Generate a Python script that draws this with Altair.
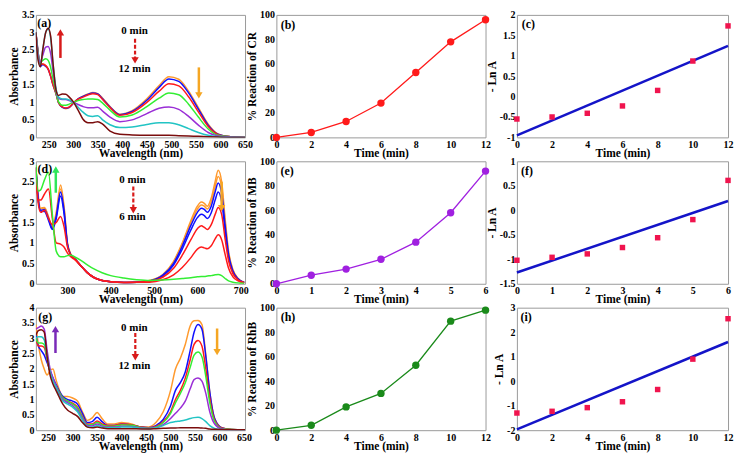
import altair as alt
import pandas as pd

FONT = "Liberation Serif"

# ---------------- (a) Congo red spectra ----------------
WL_A = [224, 228, 233, 238, 244, 249, 254, 259, 265, 270, 278, 285, 292, 300, 310, 320, 330, 340, 350, 360,
        375, 395, 420, 450, 475, 495, 515, 535, 555, 575, 595, 620, 650]
CR_0 = [3.0, 2.5, 2.05, 2.1, 2.05, 1.95, 1.75, 1.5, 1.25, 1.0, 0.86, 0.82, 0.85, 0.97, 1.1, 1.18, 1.24, 1.28, 1.25, 1.12,
        0.88, 0.66, 0.76, 1.1, 1.48, 1.73, 1.66, 1.32, 0.85, 0.38, 0.1, 0.02, 0.0]
CR_2 = [3.0, 2.5, 2.02, 2.08, 2.03, 1.95, 1.75, 1.5, 1.25, 1.0, 0.86, 0.83, 0.86, 0.97, 1.1, 1.17, 1.23, 1.27, 1.24, 1.1,
        0.87, 0.65, 0.74, 1.06, 1.43, 1.67, 1.6, 1.27, 0.81, 0.35, 0.09, 0.02, 0.0]
CR_4 = [3.0, 2.45, 2.08, 2.1, 2.05, 1.95, 1.75, 1.5, 1.25, 1.0, 0.87, 0.84, 0.87, 0.98, 1.09, 1.15, 1.21, 1.25, 1.22, 1.08,
        0.85, 0.63, 0.71, 1.0, 1.32, 1.53, 1.47, 1.16, 0.73, 0.31, 0.08, 0.02, 0.0]
CR_6 = [3.0, 2.45, 2.15, 2.2, 2.25, 2.2, 2.0, 1.65, 1.28, 1.02, 0.92, 0.92, 0.95, 1.0, 1.05, 1.08, 1.1, 1.1, 1.08, 0.98,
        0.78, 0.58, 0.64, 0.88, 1.12, 1.27, 1.22, 0.95, 0.58, 0.24, 0.06, 0.02, 0.0]
CR_8 = [3.0, 2.4, 2.15, 2.35, 2.58, 2.6, 2.4, 1.9, 1.35, 1.12, 1.08, 1.08, 1.05, 1.0, 0.94, 0.88, 0.85, 0.85, 0.86, 0.75,
        0.58, 0.45, 0.5, 0.68, 0.83, 0.87, 0.8, 0.6, 0.35, 0.14, 0.04, 0.01, 0.0]
CR_10 = [3.0, 2.3, 2.05, 2.5, 3.0, 3.1, 2.85, 2.1, 1.4, 1.15, 1.1, 1.1, 1.07, 1.0, 0.86, 0.72, 0.62, 0.6, 0.62, 0.5,
         0.36, 0.28, 0.3, 0.37, 0.42, 0.42, 0.36, 0.25, 0.14, 0.06, 0.02, 0.0, 0.0]
CR_12 = [3.0, 2.25, 2.02, 2.5, 3.0, 3.12, 2.9, 2.1, 1.35, 1.2, 1.24, 1.23, 1.15, 1.02, 0.78, 0.52, 0.42, 0.42, 0.45, 0.38,
         0.18, 0.09, 0.07, 0.06, 0.06, 0.06, 0.05, 0.04, 0.03, 0.02, 0.01, 0.0, 0.0]
CR_CURVES = [CR_0, CR_2, CR_4, CR_6, CR_8, CR_10, CR_12]
CR_NAMES = ["0 min", "2 min", "4 min", "6 min", "8 min", "10 min", "12 min"]
CR_COLORS = ["#ff9a2e", "#1010ff", "#ff1a1a", "#33ee33", "#9a2ed6", "#22c4c4", "#7a0d0d"]

# ---------------- (d) Methylene blue spectra ----------------
WL_D = [227, 232, 238, 247, 256, 265, 274, 284, 292, 300, 308, 318, 330, 345, 360, 380, 400, 430, 460,
        490, 520, 545, 565, 585, 600, 609, 616, 623, 632, 641, 648, 656, 664, 672, 682, 694, 708]
MB_0 = [2.85, 2.2, 1.85, 1.87, 1.65, 1.4, 1.75, 2.42, 1.9, 1.0, 0.72, 0.6, 0.45, 0.28, 0.16, 0.08, 0.05, 0.03, 0.04,
        0.08, 0.22, 0.55, 1.0, 1.55, 1.9, 2.0, 1.97, 1.9, 2.1, 2.5, 2.78, 2.5, 1.6, 0.8, 0.35, 0.13, 0.03]
MB_1 = [2.85, 2.15, 1.83, 1.85, 1.63, 1.38, 1.7, 2.32, 1.85, 0.98, 0.71, 0.6, 0.45, 0.28, 0.16, 0.08, 0.05, 0.03, 0.04,
        0.08, 0.22, 0.53, 0.97, 1.5, 1.83, 1.93, 1.9, 1.83, 2.0, 2.38, 2.63, 2.37, 1.52, 0.76, 0.33, 0.12, 0.03]
MB_2 = [2.85, 2.1, 1.8, 1.82, 1.6, 1.35, 1.65, 2.25, 1.8, 0.96, 0.7, 0.6, 0.45, 0.28, 0.16, 0.08, 0.05, 0.03, 0.04,
        0.07, 0.21, 0.5, 0.92, 1.43, 1.75, 1.85, 1.82, 1.75, 1.9, 2.25, 2.47, 2.22, 1.43, 0.72, 0.31, 0.12, 0.03]
MB_3 = [2.85, 2.1, 1.78, 1.77, 1.56, 1.33, 1.6, 2.15, 1.72, 0.95, 0.7, 0.6, 0.45, 0.28, 0.16, 0.08, 0.05, 0.03, 0.04,
        0.07, 0.19, 0.46, 0.85, 1.32, 1.62, 1.7, 1.67, 1.6, 1.74, 2.05, 2.25, 2.02, 1.3, 0.66, 0.29, 0.11, 0.03]
MB_4 = [2.8, 2.0, 1.75, 1.8, 1.6, 1.45, 1.5, 1.65, 1.4, 0.9, 0.7, 0.6, 0.45, 0.28, 0.16, 0.08, 0.05, 0.03, 0.04,
        0.06, 0.16, 0.38, 0.7, 1.08, 1.35, 1.42, 1.38, 1.33, 1.45, 1.7, 1.87, 1.7, 1.1, 0.56, 0.25, 0.1, 0.03]
MB_5 = [2.85, 2.05, 2.05, 2.2, 2.32, 1.6, 1.0, 0.97, 0.9, 0.75, 0.66, 0.58, 0.45, 0.28, 0.16, 0.08, 0.05, 0.03, 0.04,
        0.04, 0.1, 0.22, 0.4, 0.64, 0.85, 0.9, 0.88, 0.86, 0.93, 1.1, 1.2, 1.08, 0.72, 0.38, 0.17, 0.07, 0.02]
MB_6 = [2.9, 2.27, 2.3, 2.55, 2.73, 1.7, 0.8, 0.66, 0.66, 0.69, 0.7, 0.65, 0.58, 0.47, 0.37, 0.27, 0.2, 0.14, 0.1,
        0.08, 0.09, 0.11, 0.13, 0.15, 0.17, 0.18, 0.18, 0.19, 0.2, 0.22, 0.23, 0.2, 0.13, 0.07, 0.04, 0.02, 0.01]
MB_CURVES = [MB_0, MB_1, MB_2, MB_3, MB_4, MB_5, MB_6]
MB_NAMES = ["0 min", "1 min", "2 min", "3 min", "4 min", "5 min", "6 min"]
MB_COLORS = ["#ff9a2e", "#1010ff", "#1a7a2a", "#ff1a1a", "#9a2ed6", "#ee1d5a", "#7cf03a"]

# ---------------- (g) Rhodamine B spectra ----------------
WL_G = [225, 230, 236, 242, 248, 254, 260, 266, 272, 280, 290, 300, 310, 320, 330, 340, 350, 360, 372, 385,
        400, 420, 440, 455, 470, 485, 500, 510, 520, 530, 540, 548, 556, 564, 572, 580, 590, 605, 625, 652]
RB_0 = [3.45, 2.8, 2.3, 2.0, 1.8, 1.95, 2.0, 1.65, 1.35, 1.1, 1.1, 1.05, 0.95, 0.6, 0.32, 0.4, 0.58, 0.38, 0.2, 0.2,
        0.25, 0.2, 0.1, 0.1, 0.25, 0.6, 1.3, 2.0, 2.35, 2.8, 3.4, 3.57, 3.58, 3.45, 2.45, 1.25, 0.38, 0.08, 0.02, 0.01]
RB_2 = [3.1, 2.75, 2.6, 2.45, 2.2, 1.95, 1.7, 1.5, 1.3, 1.1, 1.0, 0.95, 0.85, 0.55, 0.25, 0.28, 0.42, 0.28, 0.15, 0.15,
        0.2, 0.17, 0.1, 0.08, 0.15, 0.35, 0.8, 1.3, 1.55, 1.9, 2.6, 3.2, 3.45, 3.3, 2.4, 1.25, 0.38, 0.07, 0.02, 0.01]
RB_4 = [3.0, 2.75, 2.75, 2.7, 2.3, 1.9, 1.65, 1.45, 1.25, 1.05, 0.95, 0.88, 0.75, 0.45, 0.2, 0.2, 0.3, 0.2, 0.15, 0.15,
        0.2, 0.18, 0.1, 0.08, 0.12, 0.28, 0.6, 1.0, 1.3, 1.7, 2.3, 2.8, 2.93, 2.75, 2.0, 1.05, 0.32, 0.06, 0.02, 0.01]
RB_6 = [3.0, 2.85, 2.85, 2.8, 2.35, 1.9, 1.65, 1.45, 1.25, 1.05, 0.95, 0.85, 0.72, 0.42, 0.18, 0.18, 0.25, 0.17, 0.13, 0.13,
        0.17, 0.16, 0.09, 0.07, 0.1, 0.25, 0.55, 0.9, 1.2, 1.55, 2.05, 2.45, 2.55, 2.4, 1.75, 0.9, 0.28, 0.05, 0.02, 0.01]
RB_8 = [3.3, 3.35, 3.4, 3.3, 2.6, 2.0, 1.7, 1.45, 1.2, 1.0, 0.9, 0.8, 0.65, 0.38, 0.15, 0.14, 0.2, 0.13, 0.1, 0.1,
        0.13, 0.12, 0.07, 0.06, 0.08, 0.18, 0.38, 0.55, 0.72, 0.95, 1.35, 1.65, 1.7, 1.6, 1.2, 0.6, 0.2, 0.04, 0.01, 0.01]
RB_10 = [3.0, 3.05, 3.05, 2.95, 2.4, 1.9, 1.6, 1.4, 1.15, 0.95, 0.85, 0.75, 0.6, 0.33, 0.12, 0.1, 0.15, 0.1, 0.08, 0.08,
         0.1, 0.1, 0.06, 0.05, 0.08, 0.15, 0.25, 0.28, 0.3, 0.33, 0.38, 0.41, 0.42, 0.38, 0.28, 0.15, 0.06, 0.02, 0.01, 0.01]
RB_12 = [3.1, 3.25, 3.28, 3.2, 2.4, 1.8, 1.5, 1.3, 1.1, 0.85, 0.65, 0.55, 0.45, 0.25, 0.1, 0.08, 0.1, 0.07, 0.05, 0.05,
         0.05, 0.05, 0.04, 0.04, 0.05, 0.06, 0.07, 0.07, 0.08, 0.08, 0.08, 0.08, 0.08, 0.07, 0.06, 0.04, 0.03, 0.02, 0.01, 0.01]
RB_CURVES = [RB_0, RB_2, RB_4, RB_6, RB_8, RB_10, RB_12]
RB_NAMES = ["0 min", "2 min", "4 min", "6 min", "8 min", "10 min", "12 min"]
RB_COLORS = ["#ff9a2e", "#1010ff", "#1a7a2a", "#ff1a1a", "#d4f03a", "#22d0d0", "#9a1ad6"]

# ---------------- kinetics ----------------
T_CR = [0, 2, 4, 6, 8, 10, 12]
PCT_CR = [0, 4, 13, 28, 53, 78, 96]
LNA_CR = [-0.55, -0.5, -0.41, -0.23, 0.15, 0.87, 1.73]
FIT_CR_T = [0, 12]
FIT_CR = [-0.95, 1.24]

T_MB = [0, 1, 2, 3, 4, 5, 6]
PCT_MB = [0, 7, 12, 20, 34, 58, 92]
LNA_MB = [-1.02, -0.96, -0.89, -0.76, -0.56, -0.19, 0.61]
FIT_MB_T = [0, 6]
FIT_MB = [-1.27, 0.19]

T_RB = [0, 2, 4, 6, 8, 10, 12]
PCT_RB = [0, 4, 19, 30, 53, 89, 98]
LNA_RB = [-1.3, -1.23, -1.08, -0.84, -0.34, 0.9, 2.55]
FIT_RB_T = [0, 12]
FIT_RB = [-1.97, 1.6]

# annotation anchors (data units)
ANN_A = dict(lab=("(a)", 227, 3.28), t0=(425, 3.03), t1=("12 min", 425, 1.95), dash=(426, 2.82, 2.2),
             up=(274, 2.27, 3.0, "#d81a1a"), down=(556, 2.0, 1.2, "#f5a623"))
ANN_D = dict(lab=("(d)", 231, 2.81), t0=(450, 2.55), t1=("6 min", 450, 1.64), dash=(452, 2.38, 1.8),
             up=(273, 2.23, 2.8, "#2ee65a"), down=(656, 2.5, 1.85, "#f5a623"))
ANN_G = dict(lab=("(g)", 230, 3.68), t0=(426, 3.35), t1=("12 min", 426, 2.1), dash=(428, 3.17, 2.38),
             up=(265, 2.52, 3.3, "#7a2ab8"), down=(595, 3.32, 2.55, "#f5a623"))

W1, W2, W3 = 210, 210, 212
H = 123


def xaxis(title, values):
    return alt.Axis(title=title, values=values, labelExpr="datum.value + ''", grid=False, ticks=False,
                    domain=False, labelPadding=2, titlePadding=-2, labelFlush=False, labelOverlap=False,
                    tickCount=len(values))


def yaxis(title, values):
    return alt.Axis(title=title, values=values, labelExpr="datum.value + ''", grid=False, ticks=False,
                    domain=False, labelPadding=2, titlePadding=2, labelOverlap=False, tickCount=len(values))


def X(field, xs):
    return alt.X(field, scale=xs)


def Y(field, ys):
    return alt.Y(field, scale=ys)


def annotations(ann, xs, ys):
    lab, x, y = ann["lab"]
    texts = pd.DataFrame([
        {"wl": ann["t0"][0], "A": ann["t0"][1], "txt": "0 min"},
        {"wl": ann["t1"][1], "A": ann["t1"][2], "txt": ann["t1"][0]},
    ])
    t_layer = alt.Chart(texts).mark_text(font=FONT, fontWeight="bold", fontSize=11, color="black").encode(
        x=X("wl:Q", xs), y=Y("A:Q", ys), text="txt:N")
    l_layer = alt.Chart(pd.DataFrame([{"wl": x, "A": y, "txt": lab}])).mark_text(
        font=FONT, fontWeight="bold", fontSize=12, color="black", align="left").encode(
        x=X("wl:Q", xs), y=Y("A:Q", ys), text="txt:N")
    dx, dy1, dy2 = ann["dash"]
    ux, uy1, uy2, uc = ann["up"]
    ox, oy1, oy2, oc = ann["down"]
    rules = pd.DataFrame([
        {"wl": ux, "A": uy1, "A2": uy2, "c": uc},
        {"wl": ox, "A": oy1, "A2": oy2, "c": oc},
    ])
    r_layer = alt.Chart(rules).mark_rule(strokeWidth=2.5).encode(
        x=X("wl:Q", xs), y=Y("A:Q", ys), y2="A2:Q", color=alt.Color("c:N", scale=None))
    d_layer = alt.Chart(pd.DataFrame([{"wl": dx, "A": dy1, "A2": dy2}])).mark_rule(
        strokeWidth=2.2, strokeDash=[4, 2], color="#d81a1a").encode(
        x=X("wl:Q", xs), y=Y("A:Q", ys), y2="A2:Q")
    heads_up = pd.DataFrame([{"wl": ux, "A": uy2, "c": uc}])
    heads_dn = pd.DataFrame([{"wl": ox, "A": oy2, "c": oc}, {"wl": dx, "A": dy2, "c": "#d81a1a"}])
    hu = alt.Chart(heads_up).mark_point(shape="triangle-up", filled=True, size=55, opacity=1).encode(
        x=X("wl:Q", xs), y=Y("A:Q", ys), color=alt.Color("c:N", scale=None))
    hd = alt.Chart(heads_dn).mark_point(shape="triangle-down", filled=True, size=55, opacity=1).encode(
        x=X("wl:Q", xs), y=Y("A:Q", ys), color=alt.Color("c:N", scale=None))
    return [t_layer, l_layer, r_layer, d_layer, hu, hd]


def spectra_panel(wl, curves, names, colors, xdom, xvals, ydom, yvals, width, ann):
    rows = []
    for name, vals in zip(names, curves):
        for w, v in zip(wl, vals):
            rows.append({"wl": w, "A": v, "s": name})
    df = pd.DataFrame(rows)
    xs = alt.Scale(domain=xdom, nice=False, zero=False)
    ys = alt.Scale(domain=ydom, nice=False, zero=False)
    lines = alt.Chart(df).mark_line(interpolate="monotone", strokeWidth=1.5, clip=True).encode(
        x=alt.X("wl:Q", scale=xs, axis=xaxis("Wavelength (nm)", xvals)),
        y=alt.Y("A:Q", scale=ys, axis=yaxis("Absorbance", yvals)),
        color=alt.Color("s:N", scale=alt.Scale(domain=names, range=colors), legend=None),
    )
    return alt.layer(lines, *annotations(ann, xs, ys)).properties(width=width, height=H)


def pct_panel(t, p, color, xvals, label, lab_pos, ytitle, width):
    df = pd.DataFrame({"t": t, "p": p})
    xs = alt.Scale(domain=[xvals[0], xvals[-1]], nice=False, zero=False)
    ys = alt.Scale(domain=[0, 100], nice=False)
    line = alt.Chart(df).mark_line(color=color, strokeWidth=1.3).encode(
        x=alt.X("t:Q", scale=xs, axis=xaxis("Time (min)", xvals)),
        y=alt.Y("p:Q", scale=ys, axis=yaxis(ytitle, [0, 20, 40, 60, 80, 100])),
    )
    pts = alt.Chart(df).mark_circle(color=color, size=55, opacity=1).encode(x=X("t:Q", xs), y=Y("p:Q", ys))
    lab = alt.Chart(pd.DataFrame([{"t": lab_pos[0], "p": lab_pos[1], "txt": label}])).mark_text(
        font=FONT, fontWeight="bold", fontSize=12, align="left", color="black").encode(
        x=X("t:Q", xs), y=Y("p:Q", ys), text="txt:N")
    return alt.layer(line, pts, lab).properties(width=width, height=H)


def lna_panel(t, v, fit_t, fit_v, xvals, ydom, yvals, label, lab_pos, width):
    df = pd.DataFrame({"t": t, "v": v})
    fdf = pd.DataFrame({"t": fit_t, "v": fit_v})
    xs = alt.Scale(domain=[xvals[0], xvals[-1]], nice=False, zero=False)
    ys = alt.Scale(domain=ydom, nice=False, zero=False)
    fit = alt.Chart(fdf).mark_line(color="#1414c8", strokeWidth=2.5).encode(
        x=alt.X("t:Q", scale=xs, axis=xaxis("Time (min)", xvals)),
        y=alt.Y("v:Q", scale=ys, axis=yaxis("- Ln A", yvals)),
    )
    pts = alt.Chart(df).mark_square(color="#f0144e", size=30, opacity=1).encode(x=X("t:Q", xs), y=Y("v:Q", ys))
    lab = alt.Chart(pd.DataFrame([{"t": lab_pos[0], "v": lab_pos[1], "txt": label}])).mark_text(
        font=FONT, fontWeight="bold", fontSize=12, align="left", color="black").encode(
        x=X("t:Q", xs), y=Y("v:Q", ys), text="txt:N")
    return alt.layer(fit, pts, lab).properties(width=width, height=H)


pa = spectra_panel(WL_A, CR_CURVES, CR_NAMES, CR_COLORS, [224, 650], [250, 300, 350, 400, 450, 500, 550, 600, 650],
                   [0, 3.5], [0, 0.5, 1, 1.5, 2, 2.5, 3, 3.5], W1, ANN_A)
pb = pct_panel(T_CR, PCT_CR, "#ff1a1a", [0, 2, 4, 6, 8, 10, 12], "(b)", (0.25, 92), "% Reaction of CR", W2)
pc = lna_panel(T_CR, LNA_CR, FIT_CR_T, FIT_CR, [0, 2, 4, 6, 8, 10, 12], [-1, 2],
               [-1, -0.5, 0, 0.5, 1, 1.5, 2], "(c)", (0.28, 1.78), W3)

pd_ = spectra_panel(WL_D, MB_CURVES, MB_NAMES, MB_COLORS, [227, 710], [300, 400, 500, 600, 700],
                    [0, 3], [0, 0.5, 1, 1.5, 2, 2.5, 3], W1, ANN_D)
pe = pct_panel(T_MB, PCT_MB, "#a020e0", [0, 1, 2, 3, 4, 5, 6], "(e)", (0.12, 92), "% Reaction of MB", W2)
pf = lna_panel(T_MB, LNA_MB, FIT_MB_T, FIT_MB, [0, 1, 2, 3, 4, 5, 6], [-1.5, 1],
               [-1.5, -1, -0.5, 0, 0.5, 1], "(f)", (0.12, 0.8), W3)

pg = spectra_panel(WL_G, RB_CURVES, RB_NAMES, RB_COLORS, [225, 652], [250, 300, 350, 400, 450, 500, 550, 600, 650],
                   [0, 4], [0, 0.5, 1, 1.5, 2, 2.5, 3, 3.5, 4], W1, ANN_G)
ph = pct_panel(T_RB, PCT_RB, "#1a8a1a", [0, 2, 4, 6, 8, 10, 12], "(h)", (0.25, 92), "% Reaction of RhB", W2)
pi = lna_panel(T_RB, LNA_RB, FIT_RB_T, FIT_RB, [0, 2, 4, 6, 8, 10, 12], [-2, 3],
               [-2, -1, 0, 1, 2, 3], "(i)", (0.2, 2.6), W3)

chart = alt.concat(pa, pb, pc, pd_, pe, pf, pg, ph, pi, columns=3,
                   spacing={"row": 24, "column": 31.5}, bounds="flush").properties(
    padding={"left": 0, "top": 0, "right": 0, "bottom": 0}, background="white"
).configure_view(stroke="#9a9a9a", strokeWidth=1).configure_axis(
    labelFont=FONT, labelFontWeight="bold", labelFontSize=10, labelColor="black",
    titleFont=FONT, titleFontWeight="bold", titleFontSize=11.5, titleColor="black",
    labelOverlap=False, labelFlush=False
)

chart.save("out.html", embed_options={"renderer": "svg", "actions": False})
